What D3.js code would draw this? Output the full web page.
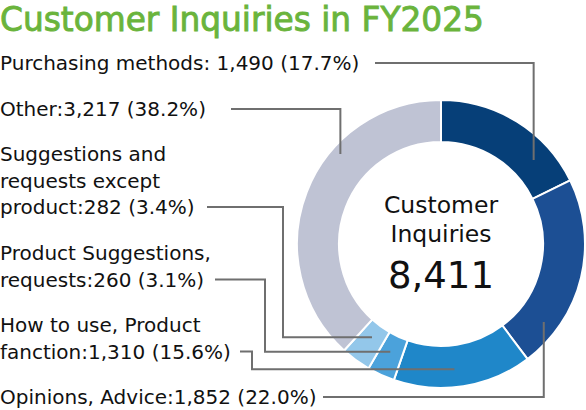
<!DOCTYPE html>
<html>
<head>
<meta charset="utf-8">
<script src="https://cdn.jsdelivr.net/npm/d3@7"></script>
<style>
  body { margin: 0; background: #fff; }
  svg { display: block; font-family: "DejaVu Sans", sans-serif; }
</style>
</head>
<body>
<svg id="chart"></svg>
<script>
// data, clockwise from 12 o'clock
const categories = ['Purchasing methods', 'Opinions, Advice', 'How to use, Product fanction',
    'Product Suggestions, requests', 'Suggestions and requests except product', 'Other'];
const counts = [1490, 1852, 1310, 260, 282, 3217];
const shares = ['17.7%', '22.0%', '15.6%', '3.1%', '3.4%', '38.2%'];
const total = 8411;
const colors = ['#063f78', '#1c4f94', '#1f87c9', '#4ba2db', '#93c7ea', '#bfc3d4'];

// label text lines (as printed in the chart)
const labelLines = [
    ['Purchasing methods: 1,490 (17.7%)'],
    ['Opinions, Advice:1,852 (22.0%)'],
    ['How to use, Product', 'fanction:1,310 (15.6%)'],
    ['Product Suggestions,', 'requests:260 (3.1%)'],
    ['Suggestions and', 'requests except', 'product:282 (3.4%)'],
    ['Other:3,217 (38.2%)']
];

const width = 586, height = 410;
const cx = 441, cy = 244, outerR = 144, innerR = 102;
const lineH = 26.5;

// label layout: first baseline, leader start x, bend x (null = plain elbow),
// where along the slice the leader ends, and at which radius
const layout = [
    {y: 70, sx: 375, bend: null, frac: 0.75, r: 125},
    {y: 404, sx: 323, bend: null, frac: 0.80, r: 129},
    {y: 332, sx: 240, bend: 252, frac: 0.55, r: 126},
    {y: 260, sx: 215, bend: 265, frac: 0.55, r: 119},
    {y: 161, sx: 207, bend: 283, frac: 0.52, r: 116},
    {y: 116, sx: 231, bend: null, frac: 0.65, r: 135}
];

const svg = d3.select('#chart')
    .attr('width', width)
    .attr('height', height);

// title: regular face with a thin stroke to get a medium weight
svg.append('text')
    .attr('x', 0)
    .attr('y', 31)
    .style('font-size', '32.8px')
    .style('fill', '#6ab43c')
    .style('stroke', '#6ab43c')
    .style('stroke-width', 0.9)
    .text('Customer Inquiries in FY2025');

const pie = d3.pie().sort(null).value(d => d);
const arcs = pie(counts);
const arc = d3.arc().innerRadius(innerR).outerRadius(outerR);

const ring = svg.append('g').attr('transform', `translate(${cx},${cy})`);

ring.selectAll('.slice')
    .data(arcs)
    .join('path')
    .attr('class', 'slice')
    .attr('d', arc)
    .attr('fill', (d, i) => colors[i])
    .attr('stroke', '#fff')
    .attr('stroke-width', 2);

// centre text
const centre = svg.append('g')
    .attr('text-anchor', 'middle')
    .style('fill', '#111');
centre.append('text').attr('x', cx).attr('y', 213).style('font-size', '23.5px').text('Customer');
centre.append('text').attr('x', cx).attr('y', 242).style('font-size', '23.5px').text('Inquiries');
centre.append('text').attr('x', cx).attr('y', 288).style('font-size', '37px')
    .text(d3.format(',')(total));

// labels
const labels = svg.append('g').style('font-size', '20px').style('fill', '#111');
labelLines.forEach((lines, i) => {
    const t = labels.append('text').attr('x', 0).attr('y', layout[i].y);
    lines.forEach((s, j) => {
        t.append('tspan').attr('x', 0).attr('y', layout[i].y + j * lineH).text(s);
    });
});

// leader lines
const leaders = svg.append('g')
    .attr('fill', 'none')
    .attr('stroke', '#6f6f6f')
    .attr('stroke-width', 2);

arcs.forEach((a, i) => {
    const L = layout[i];
    const ang = a.startAngle + (a.endAngle - a.startAngle) * L.frac;
    const ex = cx + L.r * Math.sin(ang);
    const ey = cy - L.r * Math.cos(ang);
    const ly = L.y + (labelLines[i].length - 1) * lineH - 7;
    const p = d3.path();
    p.moveTo(L.sx, ly);
    if (L.bend === null) {
        p.lineTo(ex, ly);
        p.lineTo(ex, ey);
    } else {
        p.lineTo(L.bend, ly);
        p.lineTo(L.bend, ey);
        p.lineTo(ex, ey);
    }
    leaders.append('path').attr('d', p.toString());
});
</script>
</body>
</html>
